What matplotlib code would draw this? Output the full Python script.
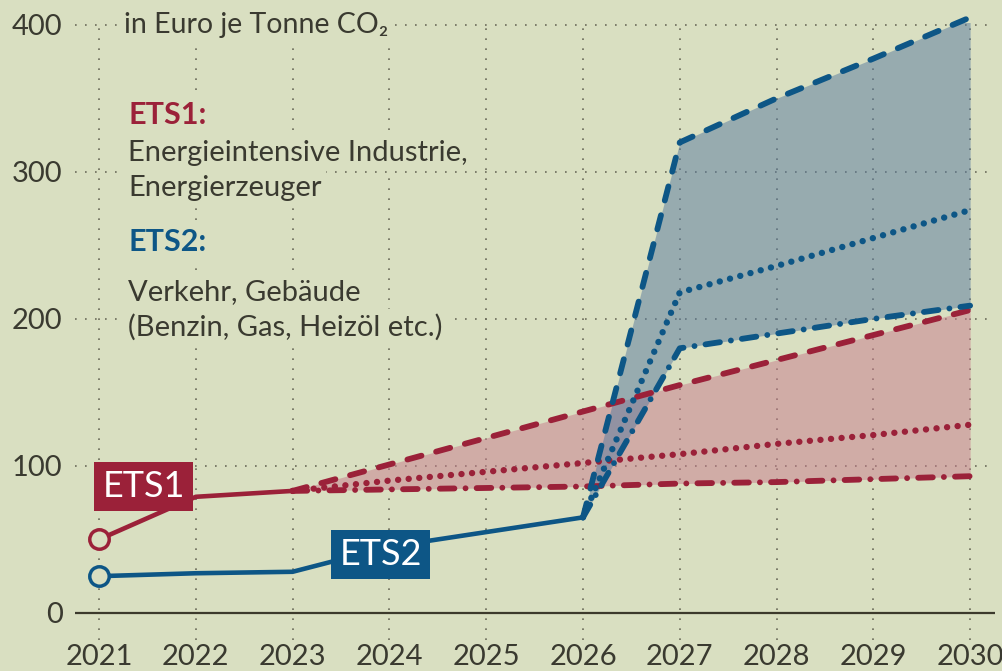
import matplotlib
matplotlib.use("Agg")
from matplotlib import pyplot as plt

# data (EUR per tonne CO2)
years_all = [2021, 2022, 2023, 2024, 2025, 2026, 2027, 2028, 2029, 2030]
y_ticks = [0, 100, 200, 300, 400]

ets1_years = [2021, 2022, 2023]
ets1_actual = [50, 79, 83]
ets1_sc_years = [2023, 2024, 2025, 2026, 2027, 2028, 2029, 2030]
ets1_high = [83, 101, 119, 137, 155, 172, 189, 206]
ets1_mid = [83, 90, 96, 102, 108, 115, 121, 128]
ets1_low = [83, 84, 85, 86, 88, 89, 91, 93]

ets2_years = [2021, 2022, 2023, 2024, 2025, 2026]
ets2_actual = [25, 27, 28, 45, 55, 65]
ets2_sc_years = [2026, 2027, 2028, 2029, 2030]
ets2_high = [65, 320, 350, 377, 405]
ets2_mid = [65, 218, 236, 255, 274]
ets2_low = [65, 180, 190, 200, 209]

bg = "#d9dfc1"
red = "#9b2139"
blue = "#0d5686"
txt = "#3a3a30"

plt.rcParams["font.family"] = ["Lato", "DejaVu Sans"]

fig = plt.figure(figsize=(10.02, 6.71), dpi=100, facecolor=bg)
ax = fig.add_axes([0.0749, 0.0462, 0.918, 0.919])
ax.set_facecolor(bg)
ax.set_xlim(2020.752, 2030.256)
ax.set_ylim(-18.4, 401)

for s in ax.spines.values():
    s.set_visible(False)

ax.set_xticks(years_all)
ax.set_xticklabels([str(y) for y in years_all])
ax.set_yticks(y_ticks)
ax.tick_params(length=0, labelsize=21, colors=txt)
ax.tick_params(axis="x", pad=3)
ax.tick_params(axis="y", pad=9)
ax.grid(True, color="#6b6b5a", linestyle=(0, (1, 5)), linewidth=1.2)
ax.set_axisbelow(True)
ax.axhline(0, color="#3c3a2c", lw=1.6, zorder=2)

# scenario bands
ax.fill_between(ets1_sc_years, ets1_low, ets1_high, color="#c97a8c", alpha=0.5, lw=0, zorder=2)
ax.fill_between(ets2_sc_years, ets2_low, ets2_high, color="#56799f", alpha=0.5, lw=0, zorder=3)

dash = (0, (2.5, 2.6))
dot = (0, (0.01, 1.65))
dashdot = (0, (2.5, 1.9, 0.01, 1.9))

for vals, ls, lw in [(ets1_high, dash, 4.2), (ets1_mid, dot, 4.6), (ets1_low, dashdot, 4.2)]:
    ax.plot(ets1_sc_years, vals, color=red, ls=ls, lw=lw, dash_capstyle="round", zorder=4, clip_on=False)
for vals, ls, lw in [(ets2_high, dash, 4.2), (ets2_mid, dot, 4.6), (ets2_low, dashdot, 4.2)]:
    ax.plot(ets2_sc_years, vals, color=blue, ls=ls, lw=lw, dash_capstyle="round", zorder=5, clip_on=False)

ax.plot(ets1_years, ets1_actual, color=red, lw=3.3, zorder=6, solid_capstyle="round")
ax.plot(ets2_years, ets2_actual, color=blue, lw=3.3, zorder=6, solid_capstyle="round")
ax.plot(ets1_years[0], ets1_actual[0], "o", ms=14, mfc=bg, mec=red, mew=2.5, zorder=7)
ax.plot(ets2_years[0], ets2_actual[0], "o", ms=14, mfc=bg, mec=blue, mew=2.5, zorder=7)

# series labels
ax.text(2021.46, 86, "ETS1", color="white", fontsize=26, ha="center", va="center", zorder=8,
        bbox=dict(boxstyle="square,pad=0.22", fc=red, ec="none"))
ax.text(2023.91, 40, "ETS2", color="white", fontsize=26, ha="center", va="center", zorder=8,
        bbox=dict(boxstyle="square,pad=0.22", fc=blue, ec="none"))

# annotations
box = dict(boxstyle="square,pad=0.15", fc=bg, ec="none")
ax.text(2021.26, 400, "in Euro je Tonne CO\u2082", color=txt, fontsize=20.5,
        va="center", bbox=box, zorder=3)
ax.text(2021.30, 339, "ETS1:", color=red, fontsize=22, fontweight="bold", va="center", bbox=box, zorder=3)
ax.text(2021.30, 313, "Energieintensive Industrie,", color=txt, fontsize=21,
        va="center", bbox=box, zorder=3)
ax.text(2021.30, 289, "Energierzeuger", color=txt, fontsize=21,
        va="center", bbox=box, zorder=3)
ax.text(2021.30, 252, "ETS2:", color=blue, fontsize=22, fontweight="bold", va="center", bbox=box, zorder=3)
ax.text(2021.30, 218, "Verkehr, Gebäude", color=txt, fontsize=21,
        va="center", bbox=box, zorder=3)
ax.text(2021.30, 194.5, "(Benzin, Gas, Heizöl etc.)", color=txt, fontsize=21,
        va="center", bbox=box, zorder=3)

fig.savefig("out.png", dpi=100, facecolor=bg)
